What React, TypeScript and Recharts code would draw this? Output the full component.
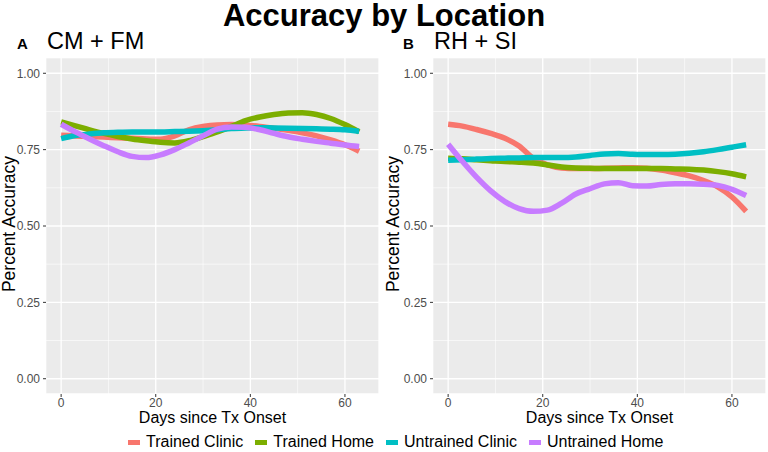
import React from 'react';
import { LineChart, Line, XAxis, YAxis, CartesianGrid } from 'recharts';

const FONT = '"Liberation Sans", Arial, Helvetica, sans-serif';

const days = [0, 3, 6, 9, 12, 15, 18, 21, 24, 27, 30, 33, 36, 39, 42, 45, 48, 51, 54, 57, 60, 63];
const seriesNames = ['Trained Clinic', 'Trained Home', 'Untrained Clinic', 'Untrained Home'];
const seriesColors = ['#F8766D', '#7CAE00', '#00BFC4', '#C77CFF'];
const xTicks = [0, 10, 20, 30, 40, 50, 60];
const xMajor = [0, 20, 40, 60];
const yTicks = [0, 0.125, 0.25, 0.375, 0.5, 0.625, 0.75, 0.875, 1];
const yMajor = [0, 0.25, 0.5, 0.75, 1];

// Panel A: CM + FM
const cmfmTrainedClinic = [0.797, 0.795, 0.793, 0.791, 0.789, 0.787, 0.785, 0.784, 0.795, 0.815, 0.826, 0.831, 0.832, 0.830, 0.826, 0.820, 0.813, 0.805, 0.795, 0.782, 0.766, 0.745];
const cmfmTrainedHome = [0.841, 0.828, 0.815, 0.803, 0.793, 0.785, 0.779, 0.774, 0.772, 0.779, 0.793, 0.808, 0.826, 0.845, 0.857, 0.865, 0.870, 0.871, 0.865, 0.852, 0.832, 0.808];
const cmfmUntrainedClinic = [0.786, 0.796, 0.801, 0.805, 0.807, 0.808, 0.808, 0.808, 0.809, 0.810, 0.812, 0.815, 0.819, 0.821, 0.822, 0.821, 0.820, 0.819, 0.818, 0.817, 0.815, 0.810];
const cmfmUntrainedHome = [0.833, 0.808, 0.785, 0.763, 0.743, 0.728, 0.724, 0.733, 0.750, 0.772, 0.795, 0.817, 0.824, 0.823, 0.815, 0.803, 0.792, 0.784, 0.777, 0.771, 0.765, 0.760];

// Panel B: RH + SI
const rhsiTrainedClinic = [0.833, 0.827, 0.816, 0.803, 0.787, 0.762, 0.722, 0.700, 0.690, 0.688, 0.688, 0.689, 0.690, 0.691, 0.689, 0.683, 0.674, 0.664, 0.649, 0.628, 0.595, 0.548];
const rhsiTrainedHome = [0.722, 0.720, 0.717, 0.714, 0.711, 0.709, 0.706, 0.700, 0.693, 0.690, 0.689, 0.688, 0.688, 0.688, 0.688, 0.688, 0.687, 0.686, 0.683, 0.678, 0.671, 0.661];
const rhsiUntrainedClinic = [0.715, 0.717, 0.719, 0.721, 0.722, 0.723, 0.724, 0.724, 0.724, 0.726, 0.731, 0.736, 0.737, 0.735, 0.734, 0.734, 0.735, 0.738, 0.743, 0.750, 0.758, 0.766];
const rhsiUntrainedHome = [0.768, 0.712, 0.660, 0.615, 0.580, 0.557, 0.548, 0.552, 0.575, 0.605, 0.622, 0.638, 0.642, 0.632, 0.631, 0.636, 0.638, 0.638, 0.637, 0.633, 0.620, 0.600];

const buildRows = (cols: number[][]) =>
  days.map((d, i) => {
    const row: Record<string, number> = { day: d };
    seriesNames.forEach((n, k) => {
      row[n] = cols[k][i];
    });
    return row;
  });

const dataA = buildRows([cmfmTrainedClinic, cmfmTrainedHome, cmfmUntrainedClinic, cmfmUntrainedHome]);
const dataB = buildRows([rhsiTrainedClinic, rhsiTrainedHome, rhsiUntrainedClinic, rhsiUntrainedHome]);

const YTick = (props: any) => {
  const { x, y, payload } = props;
  if (!yMajor.includes(payload.value)) return <g />;
  return (
    <g>
      <line x1={x + 3} x2={x + 6} y1={y} y2={y} stroke="#333333" strokeWidth={1} />
      <text x={x} y={y} dy="0.36em" textAnchor="end" fontSize={12} fill="#4D4D4D" fontFamily={FONT}>
        {payload.value.toFixed(2)}
      </text>
    </g>
  );
};

const XTick = (props: any) => {
  const { x, y, payload } = props;
  if (!xMajor.includes(payload.value)) return <g />;
  return (
    <g>
      <line x1={x} x2={x} y1={y - 4} y2={y - 1} stroke="#333333" strokeWidth={1} />
      <text x={x} y={y} dy="0.75em" textAnchor="middle" fontSize={12} fill="#4D4D4D" fontFamily={FONT}>
        {payload.value}
      </text>
    </g>
  );
};

const gridLine = (p: any) => (
  <line
    key={p.key}
    x1={p.x1}
    y1={p.y1}
    x2={p.x2}
    y2={p.y2}
    stroke="#FFFFFF"
    strokeWidth={p.index % 2 === 0 ? 1.3 : 0.6}
  />
);

const Panel = ({ data, yAxisWidth, marginRight }: { data: any[]; yAxisWidth: number; marginRight: number }) => (
  <LineChart width={384} height={452} data={data} margin={{ top: 58, right: marginRight, bottom: 38, left: 0 }}>
    <CartesianGrid fill="#EBEBEB" stroke="#FFFFFF" horizontal={gridLine} vertical={gridLine} />
    <XAxis
      dataKey="day"
      type="number"
      domain={[-3.2, 67.2]}
      ticks={xTicks}
      interval={0}
      height={20}
      axisLine={false}
      tickLine={false}
      tickSize={3}
      tickMargin={1}
      tick={<XTick />}
    />
    <YAxis
      type="number"
      domain={[-0.05, 1.05]}
      ticks={yTicks}
      interval={0}
      width={yAxisWidth}
      axisLine={false}
      tickLine={false}
      tickSize={3}
      tickMargin={3}
      tick={<YTick />}
    />
    {seriesNames.map((n, k) => (
      <Line
        key={n}
        dataKey={n}
        type="monotone"
        stroke={seriesColors[k]}
        strokeWidth={5.5}
        dot={false}
        activeDot={false}
        isAnimationActive={false}
      />
    ))}
  </LineChart>
);

export default function App() {
  return (
    <div style={{ position: 'absolute', left: 0, top: 0, width: 768, height: 452, background: '#fff', fontFamily: FONT }}>
      <div style={{ position: 'absolute', left: 0, top: 0 }}>
        <Panel data={dataA} yAxisWidth={46} marginRight={5} />
      </div>
      <div style={{ position: 'absolute', left: 384, top: 0 }}>
        <Panel data={dataB} yAxisWidth={49} marginRight={2} />
      </div>
      <svg width={768} height={452} style={{ position: 'absolute', left: 0, top: 0, pointerEvents: 'none' }} fontFamily={FONT}>
        <text x={384} y={26} textAnchor="middle" fontSize={31} fontWeight="bold" fill="#000">Accuracy by Location</text>
        <text x={17} y={48.5} fontSize={15} fontWeight="bold" fill="#000">A</text>
        <text x={47} y={49} fontSize={23.5} fill="#000">CM + FM</text>
        <text x={403} y={48.5} fontSize={15} fontWeight="bold" fill="#000">B</text>
        <text x={434} y={49} fontSize={23.5} fill="#000">RH + SI</text>
        <text transform="translate(14.5,224) rotate(-90)" textAnchor="middle" fontSize={17.5} fill="#000">Percent Accuracy</text>
        <text transform="translate(398.5,224) rotate(-90)" textAnchor="middle" fontSize={17.5} fill="#000">Percent Accuracy</text>
        <text x={212.5} y={423} textAnchor="middle" fontSize={16} fill="#000">Days since Tx Onset</text>
        <text x={599.5} y={423} textAnchor="middle" fontSize={16} fill="#000">Days since Tx Onset</text>
      </svg>
      <div
        style={{
          position: 'absolute',
          left: 128,
          top: 433,
          display: 'flex',
          alignItems: 'center',
          fontSize: 16,
          lineHeight: '18px',
          color: '#000',
          whiteSpace: 'nowrap',
        }}
      >
        {seriesNames.map((n, k) => (
          <div key={n} style={{ display: 'flex', alignItems: 'center', marginRight: 12 }}>
            <span style={{ display: 'inline-block', width: 12, height: 5, background: seriesColors[k], marginRight: 6 }} />
            <span>{n}</span>
          </div>
        ))}
      </div>
    </div>
  );
}
